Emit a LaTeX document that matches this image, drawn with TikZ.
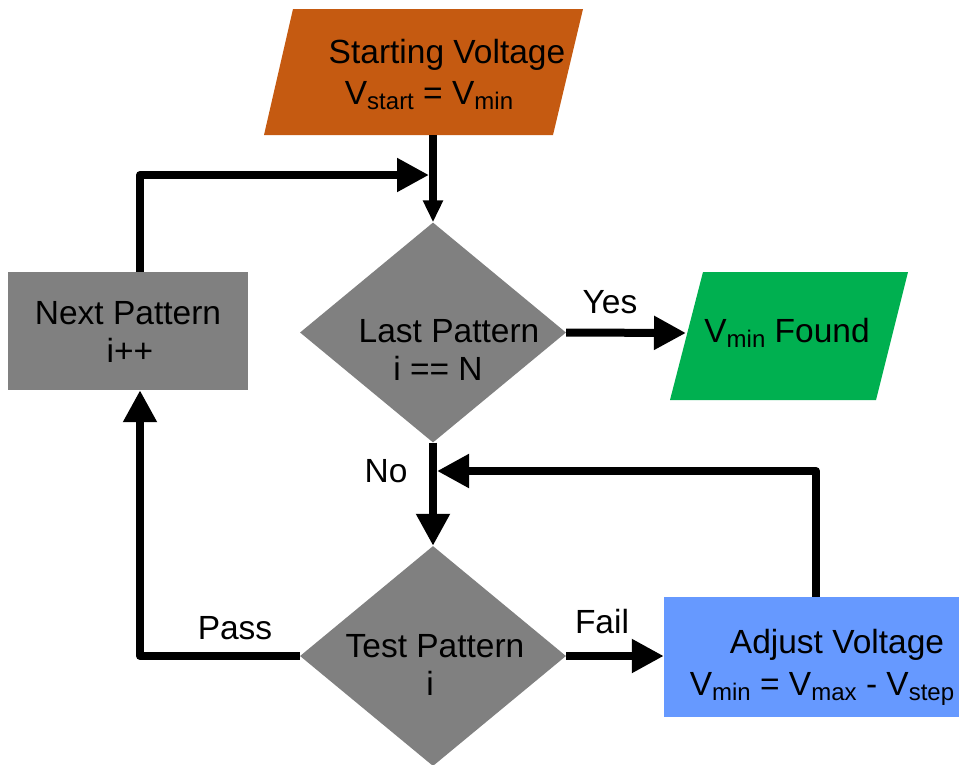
\documentclass[tikz,border=0pt]{standalone}
\usepackage{fontspec}
\setmainfont{Liberation Sans}
\usetikzlibrary{arrows.meta,shapes.geometric}
\definecolor{startc}{HTML}{C55A11}
\definecolor{foundc}{HTML}{00B050}
\definecolor{adjc}{HTML}{6699FF}
\definecolor{grayc}{HTML}{808080}
\newcommand\vsb[1]{\raisebox{-5pt}{\fontsize{24}{24}\selectfont #1}}
\begin{document}
\begin{tikzpicture}[x=1pt,y=-1pt,
  conn/.style={line width=8pt, line join=round, line cap=butt},
  bigtip/.tip={Triangle[length=32pt,width=32pt]},
  smalltip/.tip={Triangle[length=22pt,width=19pt]},
  txt/.style={anchor=base, inner sep=0pt, font=\fontsize{33.5}{38}\selectfont},
  dia/.style={diamond, fill=grayc, minimum width=266pt, minimum height=220pt, inner sep=0pt},
  box/.style={rectangle, inner sep=0pt}
]
\useasboundingbox (0,0) rectangle (959,764);

% shapes
\fill[startc] (293,9) -- (583,9) -- (553,135) -- (264,135) -- cycle;
\coordinate (startb) at (433,135);
\fill[foundc] (703,272) -- (908,272) -- (876,400) -- (670,400) -- cycle;
\coordinate (foundl) at (686,333);
\node[box, fill=grayc, minimum width=240pt, minimum height=118pt] (next) at (128,331) {};
\node[box, fill=adjc, minimum width=295pt, minimum height=120pt] (adj) at (811.5,657) {};
\node[dia] (last) at (433,332.5) {};
\node[dia] (test) at (433,656) {};
\coordinate (join1) at (429,175);
\coordinate (join2) at (437,471);

% connectors
\draw[conn,-{smalltip}] (startb) -- (last.north);
\draw[conn,-{bigtip}] ([xshift=12pt]next.north) |- (join1);
\draw[conn,-{bigtip}] (last.east) -- (foundl);
\draw[conn,-{bigtip}] (last.south) -- (test.north);
\draw[conn,-{bigtip}] ([xshift=4.5pt]adj.north) |- (join2);
\draw[conn,-{bigtip}] (test.west) -| ([xshift=12pt]next.south);
\draw[conn,-{bigtip}] (test.east) -- (test.east -| adj.west);

% texts
\node[txt] (t1) at (447,63) {Starting Voltage};
\node[txt] (t2) at (429,104) {V\vsb{start} = V\vsb{min}};
\node[txt] (t3) at (128,324) {Next Pattern};
\node[txt] (t4) at (130,362) {i++};
\node[txt] (t5) at (449,342) {Last Pattern};
\node[txt] (t6) at (438,380) {i == N};
\node[txt] (t7) at (610,313) {Yes};
\node[txt] (t8) at (787,342) {V\vsb{min} Found};
\node[txt] (t9) at (386,482) {No};
\node[txt] (t10) at (235,639) {Pass};
\node[txt] (t11) at (435,657) {Test Pattern};
\node[txt] (t12) at (430,695) {i};
\node[txt] (t13) at (602,633) {Fail};
\node[txt] (t14) at (837,653) {Adjust Voltage};
\node[txt] (t15) at (822,695) {V\vsb{min} = V\vsb{max} - V\vsb{step}};
\end{tikzpicture}
\end{document}
